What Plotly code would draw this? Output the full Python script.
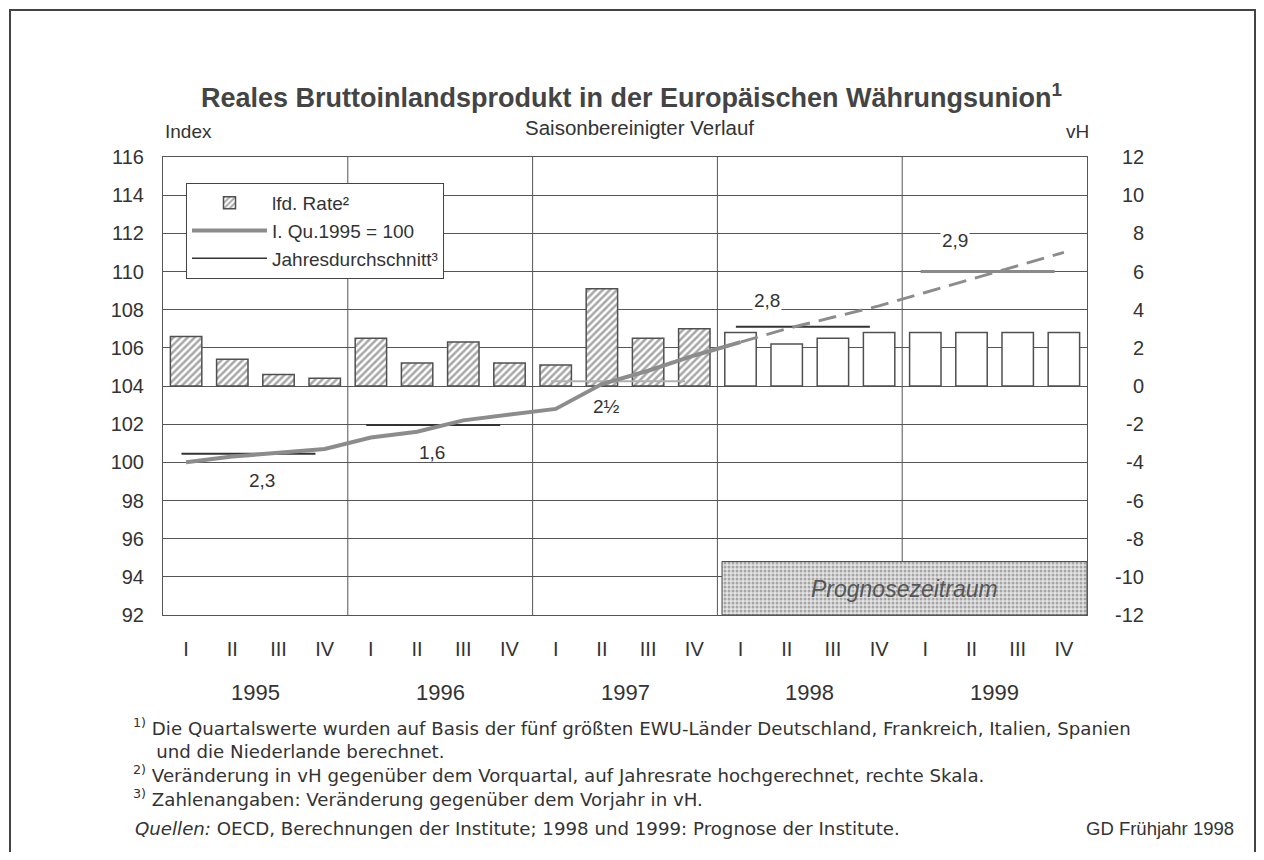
import plotly.graph_objects as go

# ---------------- data ----------------
years = ["1995", "1996", "1997", "1998", "1999"]
quarters = ["I", "II", "III", "IV"]
# annualised quarter-on-quarter rate (vH, right scale)
rate_actual = [2.6, 1.4, 0.6, 0.4, 2.5, 1.2, 2.3, 1.2, 1.1, 5.1, 2.5, 3.0]
rate_forecast = [2.8, 2.2, 2.5, 2.8, 2.8, 2.8, 2.8, 2.8]
# index, I. Qu. 1995 = 100 (left scale)
index_actual = [100.0, 100.3, 100.5, 100.7, 101.3, 101.6, 102.2, 102.5, 102.8, 104.1, 104.8, 105.6, 106.3]
index_forecast = [106.3, 107.0, 107.6, 108.2, 108.9, 109.6, 110.3, 111.0]
# annual averages (index level) and change on previous year labels
annual_avg = [100.45, 101.95, 104.25, 107.1, 110.0]
annual_change = ["2,3", "1,6", "2½", "2,8", "2,9"]
# axis ticks
index_ticks = list(range(92, 117, 2))
vh_ticks = list(range(-12, 13, 2))
vh_ticktext = [str(v) for v in vh_ticks]

n_q = len(years) * len(quarters)
xq = list(range(n_q))
n_act = len(rate_actual)

INK = "#333333"
GRID = "#555555"
FONT = "Liberation Sans"
FONT_W = "DejaVu Sans"

# page px -> paper coords (figure is drawn with an 8px body margin)
def px(x):
    return (x - 163) / 924

def py(y):
    return (615 - y) / 458

fig = go.Figure()

# hatched bars (actual)
fig.add_trace(go.Bar(
    x=xq[:n_act], y=rate_actual, yaxis="y", width=0.68,
    name="lfd. Rate²",
    marker=dict(color="white", line=dict(color="#505050", width=1.5),
                pattern=dict(shape="/", fgcolor="#505050", bgcolor="white", size=5, solidity=0.5)),
))
# white bars (forecast)
fig.add_trace(go.Bar(
    x=xq[n_act:], y=rate_forecast, yaxis="y", width=0.68,
    marker=dict(color="white", line=dict(color="#505050", width=1.5)),
    showlegend=False,
))

# annual average lines (index scale)
avg_colors = [INK, INK, "#b0b0b0", INK, "#8a8a8a"]
avg_widths = [2, 2, 2, 2, 3]
for i, (v, c, w) in enumerate(zip(annual_avg, avg_colors, avg_widths)):
    q0 = i * 4
    fig.add_trace(go.Scatter(
        x=[q0 - 0.1, q0 + 2.8], y=[v, v], yaxis="y2", mode="lines",
        line=dict(color=c, width=w), showlegend=False, hoverinfo="skip",
    ))

# index line
fig.add_trace(go.Scatter(
    x=xq[:len(index_actual)], y=index_actual, yaxis="y2", mode="lines",
    line=dict(color="#8c8c8c", width=4), name="I. Qu.1995 = 100",
))
fig.add_trace(go.Scatter(
    x=xq[len(index_actual) - 1:], y=index_forecast, yaxis="y2", mode="lines",
    line=dict(color="#8c8c8c", width=3, dash="18px,9px"), showlegend=False,
))
# legend entry for annual average
fig.add_trace(go.Scatter(
    x=[None], y=[None], yaxis="y2", mode="lines",
    line=dict(color=INK, width=1.5), name="Jahresdurchschnitt³",
))

# forecast period box
fc0 = n_act - 0.4
fc1 = n_q - 0.5
fig.add_trace(go.Scatter(
    x=[fc0, fc1, fc1, fc0, fc0], y=[92, 92, 94.8, 94.8, 92], yaxis="y2",
    mode="lines", fill="toself", line=dict(color="#444444", width=1),
    fillcolor="#d8d8d8",
    fillpattern=dict(shape=".", fgcolor="#666666", bgcolor="#e4e4e4", size=4, solidity=0.45),
    showlegend=False, hoverinfo="skip",
))

# year separators
shapes = []
for k in range(1, len(years)):
    xb = k * 4 - 0.5
    shapes.append(dict(type="line", xref="x", yref="paper", x0=xb, x1=xb, y0=0, y1=1,
                       line=dict(color=GRID, width=1), layer="below"))
# outer frame
shapes.append(dict(type="rect", xref="paper", yref="paper",
                   x0=px(10), x1=px(1255), y0=py(900), y1=py(10),
                   line=dict(color="#444444", width=2), fillcolor="rgba(0,0,0,0)", layer="below"))

ann = []
def add_text(x, y, text, size, xref="paper", yref="paper", xanchor="center", color=INK,
             bg=None, family=FONT, align="center"):
    ann.append(dict(x=x, y=y, xref=xref, yref=yref, text=text, showarrow=False,
                    xanchor=xanchor, yanchor="middle", bgcolor=bg, borderpad=1, align=align,
                    font=dict(family=family, size=size, color=color)))

# right axis tick labels (right-aligned as in the original)
for v, t in zip(vh_ticks, vh_ticktext):
    add_text(px(1146), v, t, 20, yref="y", xanchor="right")

# annual change labels
lab_pos = [(1.64, 99.07, None), (5.32, 100.54, None), (9.11, 102.9, None),
           (12.57, 108.5, "white"), (16.64, 111.65, "white")]
for t, (lx, ly, bg) in zip(annual_change, lab_pos):
    add_text(lx, ly, t, 19, xref="x", yref="y2", bg=bg)
add_text(15.56, 93.35, "<i>Prognosezeitraum</i>", 23, xref="x", yref="y2", color="#555555")
# years
for i, y in enumerate(years):
    add_text(i * 4 + 1.5, py(692), y, 22, xref="x")
# titles
add_text(px(631), py(96), "<b>Reales Bruttoinlandsprodukt in der Europäischen Währungsunion<sup>1</sup></b>",
         27, color="#444444")
add_text(px(639), py(128), "Saisonbereinigter Verlauf", 20.5)
add_text(px(188), py(132), "Index", 19)
add_text(px(1077), py(132), "vH", 19)
# footnotes (one block)
foot_lines = [
    "<sup>1)</sup> Die Quartalswerte wurden auf Basis der fünf größten EWU-Länder Deutschland, Frankreich, Italien, Spanien",
    "    und die Niederlande berechnet.".replace(" ", "\u00a0", 4),
    "<sup>2)</sup> Veränderung in vH gegenüber dem Vorquartal, auf Jahresrate hochgerechnet, rechte Skala.",
    "<sup>3)</sup> Zahlenangaben: Veränderung gegenüber dem Vorjahr in vH.",
]
add_text(px(131), py(762), "<br>".join(foot_lines), 18.2, xanchor="left", family=FONT_W, align="left")
add_text(px(133), py(829), "<i>Quellen:</i> OECD, Berechnungen der Institute; 1998 und 1999: Prognose der Institute.",
         18.2, xanchor="left", family=FONT_W)
add_text(px(1236), py(829), "GD Frühjahr 1998", 18.5, xanchor="right")

fig.update_layout(
    width=1248, height=844,
    margin=dict(l=155, r=169, t=149, b=237),
    paper_bgcolor="white", plot_bgcolor="white",
    barmode="overlay",
    font=dict(family=FONT, color=INK),
    xaxis=dict(range=[-0.5, n_q - 0.5], tickvals=xq, ticktext=quarters * len(years),
               showgrid=False, zeroline=False, ticks="", ticklabelstandoff=16,
               tickfont=dict(family=FONT, size=20, color=INK),
               showline=True, linecolor=GRID, mirror=True),
    yaxis=dict(side="right", range=[-12, 12], tickvals=vh_ticks, showticklabels=False,
               showgrid=True, gridcolor=GRID, gridwidth=1, zeroline=False,
               showline=True, linecolor=GRID, ticks=""),
    yaxis2=dict(side="left", overlaying="y", range=[92, 116], tickvals=index_ticks,
                showgrid=False, zeroline=False, showline=True, linecolor=GRID, ticks="",
                ticklabelstandoff=14, tickfont=dict(family=FONT, size=20, color=INK)),
    legend=dict(x=px(186), y=py(183), xanchor="left", yanchor="top",
                bgcolor="white", bordercolor="#444444", borderwidth=1,
                font=dict(family=FONT, size=19, color=INK), traceorder="normal",
                itemwidth=75, tracegroupgap=0),
    shapes=shapes, annotations=ann,
)

fig.write_html("out.html")
